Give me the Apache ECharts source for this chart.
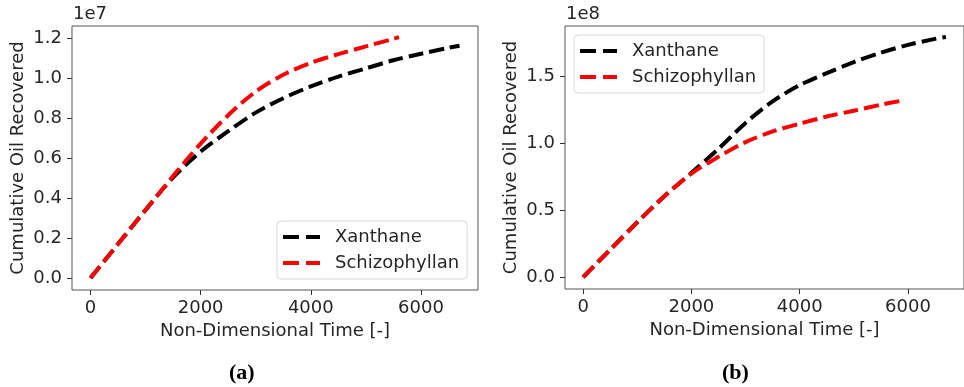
<!DOCTYPE html>
<html>
<head>
<meta charset="utf-8">
<script src="https://cdn.jsdelivr.net/npm/echarts@6/dist/echarts.min.js"></script>
<style>html,body{margin:0;padding:0;background:#fff}#c{width:964px;height:387px}</style>
</head>
<body>
<div id="c"></div>
<script>
// Panel (a) — y values in units of 1e7
const timeA = [0, 500, 1000, 1500, 2000, 2500, 3000, 3500, 4000, 4500, 5000, 5500, 6000, 6500, 6700];
const xanthaneA = [0, 0.17, 0.34, 0.503, 0.632, 0.734, 0.827, 0.899, 0.958, 1.007, 1.048, 1.089, 1.121, 1.151, 1.161];
const timeSchA = [0, 500, 1000, 1500, 2000, 2500, 3000, 3500, 4000, 4500, 5000, 5500, 5600];
const schizoA = [0, 0.17, 0.34, 0.51, 0.672, 0.814, 0.932, 1.016, 1.076, 1.119, 1.158, 1.196, 1.204];

// Panel (b) — y values in units of 1e8
const timeB = [0, 500, 1000, 1500, 2000, 2500, 3000, 3500, 4000, 4500, 5000, 5500, 6000, 6500, 6700];
const xanthaneB = [0, 0.205, 0.41, 0.605, 0.78, 0.96, 1.154, 1.315, 1.437, 1.526, 1.609, 1.68, 1.738, 1.783, 1.797];
const timeSchB = [0, 500, 1000, 1500, 2000, 2500, 3000, 3500, 4000, 4500, 5000, 5500, 5850];
const schizoB = [0, 0.205, 0.41, 0.605, 0.775, 0.9, 1.01, 1.09, 1.148, 1.202, 1.245, 1.29, 1.318];

const xTicks = [0, 2000, 4000, 6000];
const yTicksA = [0.0, 0.2, 0.4, 0.6, 0.8, 1.0, 1.2];
const yTicksB = [0.0, 0.5, 1.0, 1.5];
const seriesNames = ['Xanthane', 'Schizophyllan'];
const colors = ['#000000', '#ff0000'];
const xTitle = 'Non-Dimensional Time [-]';
const yTitle = 'Cumulative Oil Recovered';

const FONT = 'DejaVu Sans';
const FS = 18;
const TXT = '#262626';
const pairs = (xs, ys) => xs.map((x, i) => [x, ys[i]]);
const DASH_ICON = 'path://M0,0H16V4H0Z M23,0H37V4H23Z';

function xAxis(gi) {
  return {
    type: 'value', gridIndex: gi, min: -335, max: 7035,
    name: xTitle, nameLocation: 'middle', nameGap: 31,
    nameTextStyle: { fontFamily: FONT, fontSize: FS, color: TXT },
    axisLine: { show: false, onZero: false }, splitLine: { show: false },
    axisTick: { show: true, length: 5, lineStyle: { color: '#333' }, customValues: xTicks },
    axisLabel: { fontFamily: FONT, fontSize: FS, color: TXT, margin: 9, customValues: xTicks, formatter: v => String(v) }
  };
}
function yAxis(gi, ymin, ymax, ticks, gap) {
  return {
    type: 'value', gridIndex: gi, min: ymin, max: ymax,
    name: yTitle, nameLocation: 'middle', nameGap: gap, nameRotate: 90,
    nameTextStyle: { fontFamily: FONT, fontSize: FS, color: TXT },
    axisLine: { show: false, onZero: false }, splitLine: { show: false },
    axisTick: { show: true, length: 5, lineStyle: { color: '#333' }, customValues: ticks },
    axisLabel: { fontFamily: FONT, fontSize: FS, color: TXT, margin: 10, customValues: ticks, formatter: v => v.toFixed(1) }
  };
}
function line(name, data, gi, color) {
  return {
    type: 'line', name: name, xAxisIndex: gi, yAxisIndex: gi, data: data,
    showSymbol: false, symbol: 'none', smooth: 0.3, animation: false,
    lineStyle: { color: color, width: 4, type: [15, 6] },
    itemStyle: { color: color }
  };
}
function legend(left, top) {
  return {
    data: seriesNames.map(n => ({ name: n, icon: DASH_ICON })),
    orient: 'vertical', left: left, top: top,
    itemWidth: 37, itemHeight: 4, itemGap: 6,
    padding: [6, 8, 6, 6],
    backgroundColor: '#fff', borderColor: '#d8d8d8', borderWidth: 1, borderRadius: 4,
    textStyle: { fontFamily: FONT, fontSize: FS, color: TXT, lineHeight: 20, padding: [0, 0, 0, 10] },
    selectedMode: false
  };
}

const chart = echarts.init(document.getElementById('c'), null, { renderer: 'canvas' });
chart.setOption({
  animation: false,
  backgroundColor: '#fff',
  grid: [
    { left: 72, right: 486, top: 26, bottom: 97, show: true, borderColor: '#555', borderWidth: 1, backgroundColor: 'transparent' },
    { left: 565, right: -6, top: 26, bottom: 98, show: true, borderColor: '#555', borderWidth: 1, backgroundColor: 'transparent' }
  ],
  xAxis: [xAxis(0), xAxis(1)],
  yAxis: [yAxis(0, -0.06, 1.26, yTicksA, 45), yAxis(1, -0.0895, 1.8795, yTicksB, 45)],
  legend: [legend(277, 221), legend(574, 35)],
  series: [
    line(seriesNames[0], pairs(timeA, xanthaneA), 0, colors[0]),
    line(seriesNames[1], pairs(timeSchA, schizoA), 0, colors[1]),
    line(seriesNames[0], pairs(timeB, xanthaneB), 1, colors[0]),
    line(seriesNames[1], pairs(timeSchB, schizoB), 1, colors[1])
  ],
  graphic: [
    { type: 'text', left: 73, top: 5, style: { text: '1e7', fontFamily: FONT, fontSize: FS, fill: TXT } },
    { type: 'text', left: 566, top: 5, style: { text: '1e8', fontFamily: FONT, fontSize: FS, fill: TXT } },
    { type: 'text', left: 229, top: 362, style: { text: '(a)', fontFamily: 'Liberation Serif', fontWeight: 'bold', fontSize: 22, fill: '#000' } },
    { type: 'text', left: 722, top: 362, style: { text: '(b)', fontFamily: 'Liberation Serif', fontWeight: 'bold', fontSize: 22, fill: '#000' } }
  ]
});
</script>
</body>
</html>
